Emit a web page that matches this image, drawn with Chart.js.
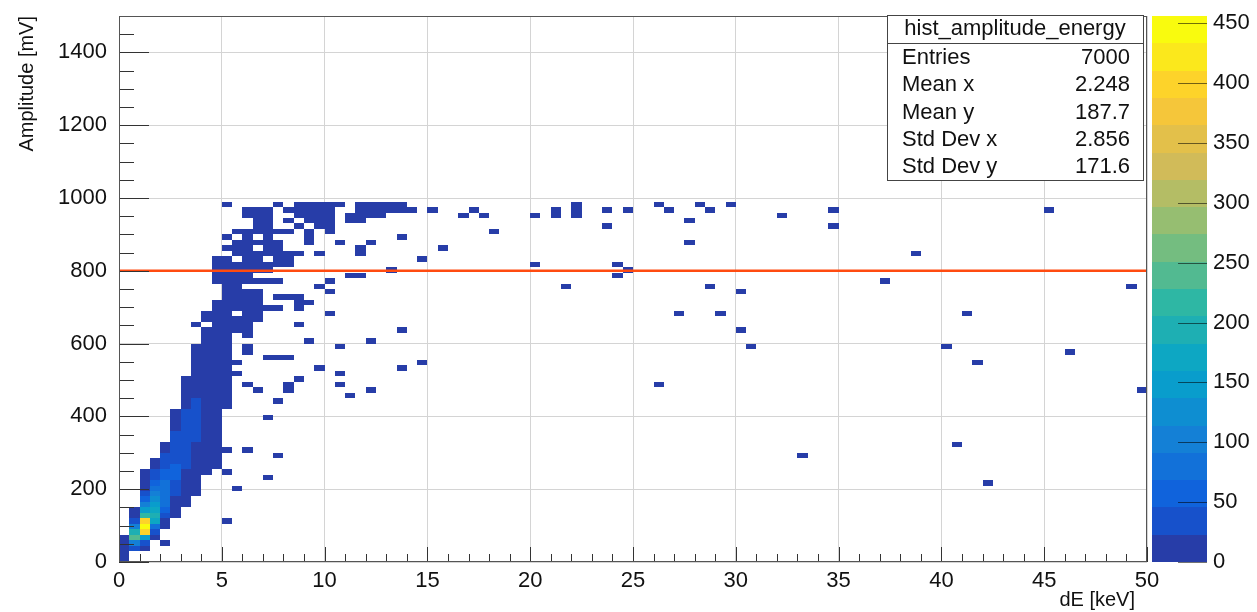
<!DOCTYPE html>
<html>
<head>
<meta charset="utf-8">
<title>hist_amplitude_energy</title>
<script src="https://cdn.jsdelivr.net/npm/chart.js@4.4.1/dist/chart.umd.min.js"></script>
<style>
  html, body { margin: 0; padding: 0; background: #fff; }
  canvas { display: block; }
</style>
</head>
<body>
<canvas id="histAmplitudeEnergy" width="1257" height="612"></canvas>
<script>
// Amplitude vs dE, 2D histogram drawn as coloured cells (COLZ)
// -----------------------------------

// Histogram binning: 100 x 100 bins, 0-50 keV and 0-1500 mV
var binWidthX = 0.5;
var binWidthY = 15;

// Filled band: lower edge of each amplitude row, first energy bin, bin contents
var rowY = [0, 15, 30, 45, 60, 75, 90, 105, 120, 135, 150, 165, 180, 195, 210, 225, 240,
    255, 270, 285, 300, 315, 330, 345, 360, 375, 390, 405, 420, 435, 450, 465, 480, 495,
    510, 525, 540, 555, 570, 585, 600, 615, 630, 645, 660, 675, 690, 705, 720, 735, 750,
    765, 780, 795, 810, 825, 840, 855, 870, 885, 900, 915, 930, 945, 960, 975];
var rowX = [0, 0, 0, 0, 0, 0.5, 0.5, 0.5, 0.5, 0.5, 1, 1, 1, 1, 1, 1, 1,
    1.5, 1.5, 2, 2, 2, 2.5, 2.5, 2.5, 2.5, 2.5, 2.5, 3, 3, 3, 3, 3, 3,
    3.5, 3.5, 3.5, 3.5, 3.5, 3.5, 4, 4, 4, 3.5, 4, 4, 4.5, 4.5, 5, 5, 5,
    4.5, 4.5, 4.5, 4.5, 4.5, 5.5, 5, 5.5, 5, 5.5, 6.5, 6.5, 6, 6, 5];
var rowCounts = [
    [6],
    [10],
    [14, 30, 8],
    [9, 95, 25],
    [3, 240, 150, 10],
    [200, 390, 35],
    [110, 456, 90, 5],
    [45, 410, 170, 12],
    [18, 220, 200, 30, 2],
    [6, 150, 175, 55, 5],
    [95, 150, 70, 12, 1],
    [60, 120, 80, 20, 2],
    [35, 95, 85, 28, 4],
    [20, 70, 80, 38, 7, 1],
    [10, 52, 72, 45, 12, 2],
    [5, 38, 62, 48, 16, 3],
    [2, 26, 52, 48, 22, 5, 1],
    [18, 44, 46, 26, 8, 2, 1],
    [11, 36, 44, 30, 11, 3, 1],
    [28, 42, 33, 14, 4, 1],
    [21, 38, 34, 17, 6, 1],
    [15, 34, 35, 20, 7, 2],
    [28, 36, 23, 9, 2],
    [23, 35, 26, 10, 3],
    [18, 33, 28, 12, 3],
    [14, 30, 28, 14, 4],
    [10, 27, 28, 16, 5],
    [7, 23, 27, 17, 6],
    [19, 25, 18, 7, 2],
    [15, 24, 19, 8, 2],
    [12, 21, 19, 9, 3],
    [9, 19, 19, 10, 3],
    [6, 16, 18, 10, 3],
    [4, 13, 16, 10, 4],
    [10, 13, 10, 4],
    [8, 11, 9, 3],
    [6, 9, 8, 3, 1],
    [5, 7, 5, 2, 0, 0, 0, 1, 1],
    [4, 6, 4, 2, 0, 1],
    [3, 5, 4, 2, 0, 1],
    [4, 3, 2],
    [3, 3, 2, 0, 1],
    [3, 3, 2, 1, 1],
    [1, 0, 3, 2, 1, 1],
    [2, 3, 2, 1, 1, 1],
    [2, 2, 1, 0, 1, 1],
    [2, 2, 2, 1, 1, 1, 1, 0, 1],
    [2, 2, 1, 1, 1, 0, 0, 0, 1, 1],
    [2, 1, 1, 1, 0, 1, 1, 1],
    [1, 1, 1, 1],
    [1, 1],
    [2, 2, 1, 1, 1, 1, 1],
    [2, 2, 1, 1],
    [2, 3, 2, 1, 1, 1],
    [2, 2, 2, 1, 1, 1, 1, 1],
    [2, 1, 0, 1, 1, 0, 1, 1],
    [2, 1, 1, 1, 1, 1, 1, 0, 1],
    [1, 2, 1, 0, 1, 1],
    [1, 2, 2, 1, 1, 0, 0, 1],
    [1, 0, 1, 0, 1, 0, 0, 0, 1],
    [1, 1, 1, 2, 1, 1, 0, 1, 0, 1],
    [2, 1, 0, 0, 1, 0, 1, 1],
    [1, 2, 0, 1, 0, 1, 1, 1, 0, 1, 1],
    [1, 2, 1, 0, 0, 1, 2, 2, 1, 0, 1, 1, 1, 1],
    [1, 2, 1, 0, 1, 2, 2, 2, 1, 0, 0, 1, 1, 1, 1, 1, 1],
    [1, 0, 0, 0, 0, 1, 0, 1, 2, 2, 1, 1, 0, 1, 1, 1, 1, 1]
];

// Single entries away from the band (lower bin edges)
var singleX = [2, 5, 3.5, 5.5, 7, 5, 7.5, 5, 6, 7, 7.5, 11, 6.5, 12, 8, 6, 8, 10.5, 26,
    8.5, 5.5, 10.5, 9.5, 13.5, 14.5, 8, 10.5, 9, 12, 13.5, 8.5, 10, 27, 29, 10, 9.5, 10,
    11, 11.5, 13, 14.5, 11.5, 11.5, 15.5, 10.5, 12, 13.5, 18, 15, 16.5, 17, 17.5, 20, 21,
    21, 22, 22, 22, 23.5, 24.5, 23.5, 26, 26.5, 27.5, 27.5, 28, 28.5, 29.5, 20, 24, 24.5,
    24, 21.5, 28.5, 32, 34.5, 34.5, 45, 38.5, 37, 30, 41, 30, 30.5, 40, 41.5, 46, 49.5,
    33, 40.5, 42, 49];
var singleY = [45, 105, 180, 195, 225, 240, 285, 300, 300, 390, 435, 450, 465, 465, 465, 480, 480, 480, 480,
    495, 510, 510, 525, 525, 540, 555, 585, 600, 600, 630, 645, 675, 675, 675, 735, 750, 765,
    780, 780, 795, 825, 840, 855, 855, 870, 870, 885, 900, 960, 945, 960, 945, 945, 945,
    960, 945, 960, 975, 960, 960, 915, 975, 960, 930, 870, 975, 960, 975, 810, 810, 795,
    780, 750, 750, 945, 960, 915, 960, 840, 765, 735, 675, 630, 585, 585, 540, 570, 465,
    285, 315, 210, 750];

// Horizontal cut at 800 mV
var cutX = [0, 50];
var cutY = [800, 800];

// Axis ticks
var xTicks = [0, 5, 10, 15, 20, 25, 30, 35, 40, 45, 50];
var yTicks = [0, 200, 400, 600, 800, 1000, 1200, 1400];
var zTicks = [0, 50, 100, 150, 200, 250, 300, 350, 400, 450];

// Axis titles
var xTitle = 'dE [keV]';
var yTitle = 'Amplitude [mV]';

// Statistics box
var statsTitle = 'hist_amplitude_energy';
var statsNames = ['Entries', 'Mean x', 'Mean y', 'Std Dev x', 'Std Dev y'];
var statsValues = ['7000', '2.248', '187.7', '2.856', '171.6'];


(function(window, document, Chart) {

    // -----------------------Cells-----------------------
    var cells = [];
    rowY.forEach(function(y, r) {
        rowCounts[r].forEach(function(n, i) {
            if (n > 0) {
                cells.push({ x: rowX[r] + (i + 0.5) * binWidthX, y: y + binWidthY / 2, n: n });
            }
        });
    });
    singleX.forEach(function(x, i) {
        cells.push({ x: x + binWidthX / 2, y: singleY[i] + binWidthY / 2, n: 1 });
    });
    var zMax = Math.max.apply(null, cells.map(function(c) { return c.n; }));

    // -----------------------Palette (kBird, 20 contours)-----------------------
    var birdStops = [0, 0.125, 0.25, 0.375, 0.5, 0.625, 0.75, 0.875, 1];
    var birdR = [0.2082, 0.0592, 0.0780, 0.0232, 0.1802, 0.5301, 0.8186, 0.9956, 0.9764];
    var birdG = [0.1664, 0.3599, 0.5041, 0.6419, 0.7178, 0.7492, 0.7328, 0.7862, 0.9832];
    var birdB = [0.5293, 0.8684, 0.8385, 0.7914, 0.6425, 0.4662, 0.3499, 0.1968, 0.0539];
    var nContours = 20;

    function birdColor(t) {
        var i = 0;
        while (i < birdStops.length - 2 && t > birdStops[i + 1]) i++;
        var f = (t - birdStops[i]) / (birdStops[i + 1] - birdStops[i]);
        var c = function(a) { return Math.round(255 * (a[i] + (a[i + 1] - a[i]) * f)); };
        return 'rgb(' + c(birdR) + ',' + c(birdG) + ',' + c(birdB) + ')';
    }

    var levelColors = [];
    for (var l = 0; l < nContours; l++) {
        levelColors.push(birdColor(Math.floor((l + 0.99) * 255 / nContours) / 254));
    }

    function cellColor(n) {
        var lvl = Math.floor(0.01 + n * nContours / zMax);
        return levelColors[Math.min(lvl, nContours - 1)];
    }

    // scales keep a fixed size, without label overhang padding
    function fixedWidth(w) {
        return function(s) {
            s.width = w;
            s.paddingTop = s.paddingBottom = s.paddingLeft = s.paddingRight = 0;
        };
    }
    function fixedHeight(h) {
        return function(s) {
            s.height = h;
            s.paddingTop = s.paddingBottom = s.paddingLeft = s.paddingRight = 0;
        };
    }
    function plainNumber(v) { return String(v); }

    var fontFamily = '"Liberation Sans", Arial, Helvetica, sans-serif';
    Chart.defaults.font.family = fontFamily;
    Chart.defaults.font.size = 22;
    Chart.defaults.color = '#111';

    // -----------------------Plugin: cells, frame, ticks, palette, stats-----------------------
    var rootStyle = {
        id: 'rootStyle',
        beforeDatasetsDraw: function(chart) {
            var ctx = chart.ctx, xs = chart.scales.x, ys = chart.scales.y, a = chart.chartArea;
            ctx.save();
            ctx.beginPath();
            ctx.rect(a.left, a.top, a.right - a.left, a.bottom - a.top);
            ctx.clip();
            chart.data.datasets[1].data.forEach(function(c) {
                var x0 = Math.round(xs.getPixelForValue(c.x - binWidthX / 2));
                var x1 = Math.round(xs.getPixelForValue(c.x + binWidthX / 2));
                var y0 = Math.round(ys.getPixelForValue(c.y + binWidthY / 2));
                var y1 = Math.round(ys.getPixelForValue(c.y - binWidthY / 2));
                ctx.fillStyle = cellColor(c.n);
                ctx.fillRect(x0, y0, x1 - x0, y1 - y0);
            });
            ctx.restore();
        },
        afterDraw: function(chart) {
            var ctx = chart.ctx, xs = chart.scales.x, ys = chart.scales.y, zs = chart.scales.z;
            var a = chart.chartArea, v, p, len;
            ctx.save();

            // inward axis ticks
            ctx.strokeStyle = '#333';
            ctx.lineWidth = 1;
            ctx.beginPath();
            for (v = 0; v <= 50; v += 1) {
                p = Math.round(xs.getPixelForValue(v)) + 0.5;
                len = v % 5 === 0 ? 15 : 8;
                ctx.moveTo(p, a.bottom);
                ctx.lineTo(p, a.bottom - len);
            }
            for (v = 0; v <= 1500; v += 50) {
                p = Math.round(ys.getPixelForValue(v)) + 0.5;
                len = v % 200 === 0 ? 30 : 15;
                ctx.moveTo(a.left, p);
                ctx.lineTo(a.left + len, p);
            }
            ctx.stroke();

            // frame
            ctx.strokeStyle = '#555';
            ctx.strokeRect(a.left + 0.5, a.top + 0.5, a.right - a.left - 1, a.bottom - a.top - 1);

            // x axis title, right aligned under the axis end
            ctx.fillStyle = '#111';
            ctx.font = '20px ' + fontFamily;
            ctx.textAlign = 'right';
            ctx.textBaseline = 'middle';
            ctx.fillText(xTitle, a.right - 12, 600);

            // palette
            var palLeft = a.right + 5, palWidth = 55;
            for (var i = 0; i < nContours; i++) {
                var yTop = Math.round(zs.getPixelForValue(zMax * (i + 1) / nContours));
                var yBot = Math.round(zs.getPixelForValue(zMax * i / nContours));
                ctx.fillStyle = levelColors[i];
                ctx.fillRect(palLeft, yTop, palWidth, yBot - yTop);
            }
            ctx.strokeStyle = 'rgba(0,0,0,0.55)';
            ctx.beginPath();
            zTicks.forEach(function(t) {
                var py = Math.round(zs.getPixelForValue(t)) + 0.5;
                ctx.moveTo(palLeft + palWidth - 29, py);
                ctx.lineTo(palLeft + palWidth, py);
            });
            ctx.stroke();

            // statistics box
            var box = { left: 887, top: 15, right: 1143, bottom: 180, split: 43 };
            ctx.fillStyle = '#fff';
            ctx.fillRect(box.left, box.top, box.right - box.left, box.bottom - box.top);
            ctx.strokeStyle = '#444';
            ctx.strokeRect(box.left + 0.5, box.top + 0.5, box.right - box.left, box.bottom - box.top);
            ctx.beginPath();
            ctx.moveTo(box.left, box.split + 0.5);
            ctx.lineTo(box.right, box.split + 0.5);
            ctx.stroke();
            ctx.fillStyle = '#111';
            ctx.font = '22px ' + fontFamily;
            ctx.textBaseline = 'middle';
            ctx.textAlign = 'center';
            ctx.fillText(statsTitle, (box.left + box.right) / 2, 29);
            statsNames.forEach(function(name, k) {
                var ty = 58 + k * 27.3;
                ctx.textAlign = 'left';
                ctx.fillText(name, box.left + 15, ty);
                ctx.textAlign = 'right';
                ctx.fillText(statsValues[k], box.right - 13, ty);
            });
            ctx.restore();
        }
    };

    var ctx = document.getElementById('histAmplitudeEnergy').getContext('2d');
    new Chart(ctx, {
        type: 'scatter',
        data: {
            datasets: [{
                type: 'line',
                data: cutX.map(function(x, i) { return { x: x, y: cutY[i] }; }),
                borderColor: '#ff4b10',
                borderWidth: 2.5,
                pointRadius: 0,
                fill: false
            }, {
                data: cells,
                pointRadius: 0,
                pointHoverRadius: 0
            }]
        },
        options: {
            responsive: false,
            animation: false,
            events: [],
            layout: { padding: { top: 16, left: 0, right: 0, bottom: 0 } },
            plugins: { legend: { display: false }, tooltip: { enabled: false } },
            scales: {
                x: {
                    type: 'linear',
                    min: 0,
                    max: 50,
                    afterBuildTicks: function(s) { s.ticks = xTicks.map(function(v) { return { value: v }; }); },
                    afterFit: fixedHeight(50),
                    grid: { color: '#d4d4d4', drawTicks: false },
                    border: { display: false },
                    ticks: { padding: 6, maxRotation: 0, autoSkip: false, callback: plainNumber }
                },
                y: {
                    type: 'linear',
                    min: 0,
                    max: 1500,
                    afterBuildTicks: function(s) { s.ticks = yTicks.map(function(v) { return { value: v }; }); },
                    afterFit: fixedWidth(119),
                    grid: { color: '#d4d4d4', drawTicks: false },
                    border: { display: false },
                    ticks: { padding: 12, autoSkip: false, callback: plainNumber },
                    title: {
                        display: true, text: yTitle, align: 'end',
                        font: { size: 20 }, padding: { top: 15, bottom: 0 }
                    }
                },
                z: {
                    type: 'linear',
                    position: 'right',
                    min: 0,
                    max: zMax,
                    afterBuildTicks: function(s) { s.ticks = zTicks.map(function(v) { return { value: v }; }); },
                    afterFit: fixedWidth(110),
                    grid: { drawOnChartArea: false, drawTicks: false },
                    border: { display: false },
                    ticks: { padding: 66, autoSkip: false, callback: plainNumber }
                }
            }
        },
        plugins: [rootStyle]
    });

})(window, document, window.Chart);
</script>
</body>
</html>
